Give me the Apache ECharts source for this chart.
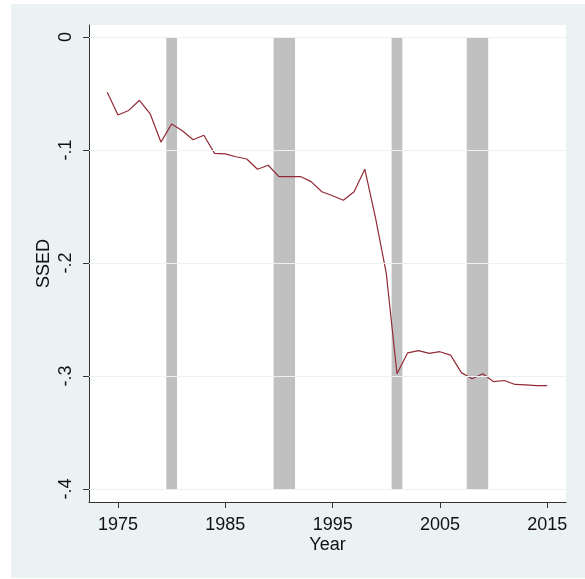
<!DOCTYPE html>
<html>
<head>
    <meta charset="utf-8">
    <title>SSED</title>
    <script src="https://cdn.jsdelivr.net/npm/echarts@6.0.0/dist/echarts.min.js"></script>
    <style>
        body { margin: 0; background: #fff; }
        #chart-container { width: 585px; height: 579px; }
    </style>
</head>
<body>
<div id="chart-container"></div>

<script>
    // data
    var years = [1974, 1975, 1976, 1977, 1978, 1979, 1980, 1981, 1982, 1983, 1984, 1985, 1986, 1987,
                 1988, 1989, 1990, 1991, 1992, 1993, 1994, 1995, 1996, 1997, 1998, 1999, 2000, 2001,
                 2002, 2003, 2004, 2005, 2006, 2007, 2008, 2009, 2010, 2011, 2012, 2013, 2014, 2015];
    var ssed = [-0.049, -0.069, -0.065, -0.056, -0.068, -0.093, -0.077, -0.083, -0.091, -0.087, -0.103, -0.1035, -0.106, -0.108,
                -0.117, -0.1135, -0.1235, -0.1235, -0.1235, -0.128, -0.137, -0.1405, -0.1445, -0.137, -0.117, -0.16, -0.209, -0.298,
                -0.2795, -0.2775, -0.28, -0.2785, -0.2815, -0.297, -0.3025, -0.298, -0.305, -0.304, -0.3075, -0.3078, -0.3085, -0.3086];
    var recessions = [[1979.5, 1980.5], [1989.5, 1991.5], [2000.5, 2001.5], [2007.5, 2009.5]];
    var yTicks = [-0.4, -0.3, -0.2, -0.1, 0];
    var yTickLabels = ['-.4', '-.3', '-.2', '-.1', '0'];

    var myChart = echarts.init(document.getElementById('chart-container'));

    var font = 'Liberation Sans, Arial, sans-serif';

    var option = {
        backgroundColor: '#fff',
        animation: false,
        graphic: [
            { // stata style outer panel
                type: 'rect',
                left: 11, top: 4,
                shape: { width: 574, height: 574 },
                style: { fill: '#eaf2f3' },
                z: -10
            }
        ],
        grid: [
            { left: 89, right: 19, top: 25, bottom: 77, show: true, backgroundColor: '#fff', borderWidth: 0 },  // frame + data
            { left: 118, right: 37.7, top: 37, bottom: 90 }  // ticks only
        ],
        xAxis: [
            {
                gridIndex: 0,
                type: 'value',
                min: 1972.3,
                max: 2016.75,
                axisLine: { show: true, onZero: false, lineStyle: { color: '#333', width: 1 } },
                axisTick: { show: false },
                axisLabel: { show: false },
                splitLine: { show: false },
                name: 'Year',
                nameLocation: 'middle',
                nameGap: 34,
                nameTextStyle: { fontFamily: font, fontSize: 18, color: '#111' }
            },
            {
                gridIndex: 1,
                type: 'value',
                min: 1975,
                max: 2015,
                interval: 10,
                offset: 13,
                axisLine: { show: false, onZero: false },
                axisTick: { show: true, length: 6, lineStyle: { color: '#333' } },
                axisLabel: {
                    fontFamily: font, fontSize: 18, color: '#111', margin: 14,
                    formatter: function (v) { return String(v); }
                },
                splitLine: { show: false }
            }
        ],
        yAxis: [
            {
                gridIndex: 0,
                type: 'value',
                min: -0.4115,
                max: 0.0106,
                axisLine: { show: true, onZero: false, lineStyle: { color: '#333', width: 1 } },
                axisTick: { show: false },
                axisLabel: { show: false },
                splitLine: { show: false },
                name: 'SSED',
                nameLocation: 'middle',
                nameRotate: 90,
                nameGap: 36,
                nameTextStyle: { fontFamily: font, fontSize: 18, color: '#111' }
            },
            {
                gridIndex: 1,
                type: 'value',
                min: -0.4,
                max: 0,
                interval: 0.1,
                offset: 29,
                axisLine: { show: false, onZero: false },
                axisTick: { show: true, length: 6, lineStyle: { color: '#333' } },
                axisLabel: {
                    fontFamily: font, fontSize: 18, color: '#111', margin: 14, rotate: 90,
                    formatter: function (v) {
                        for (var i = 0; i < yTicks.length; i++) {
                            if (Math.abs(v - yTicks[i]) < 1e-6) return yTickLabels[i];
                        }
                        return '';
                    }
                },
                splitLine: { show: false }
            }
        ],
        series: [
            { // grid lines across the frame
                type: 'line',
                xAxisIndex: 0,
                yAxisIndex: 0,
                data: [],
                silent: true,
                z: 1,
                markLine: {
                    symbol: 'none',
                    silent: true,
                    label: { show: false },
                    lineStyle: { color: '#eaf2f3', width: 1.2, type: 'solid' },
                    data: yTicks.map(function (v) { return { yAxis: v }; })
                }
            },
            { // recession bands + SSED line
                type: 'line',
                xAxisIndex: 0,
                yAxisIndex: 0,
                data: years.map(function (y, i) { return [y, ssed[i]]; }),
                showSymbol: false,
                z: 3,
                lineStyle: { color: '#922b35', width: 1.2 },
                markArea: {
                    silent: true,
                    itemStyle: { color: '#c0c0c0' },
                    data: recessions.map(function (r) {
                        return [{ xAxis: r[0], yAxis: yTicks[yTicks.length - 1] }, { xAxis: r[1], yAxis: yTicks[0] }];
                    })
                }
            }
        ]
    };

    myChart.setOption(option);
</script>
</body>
</html>
